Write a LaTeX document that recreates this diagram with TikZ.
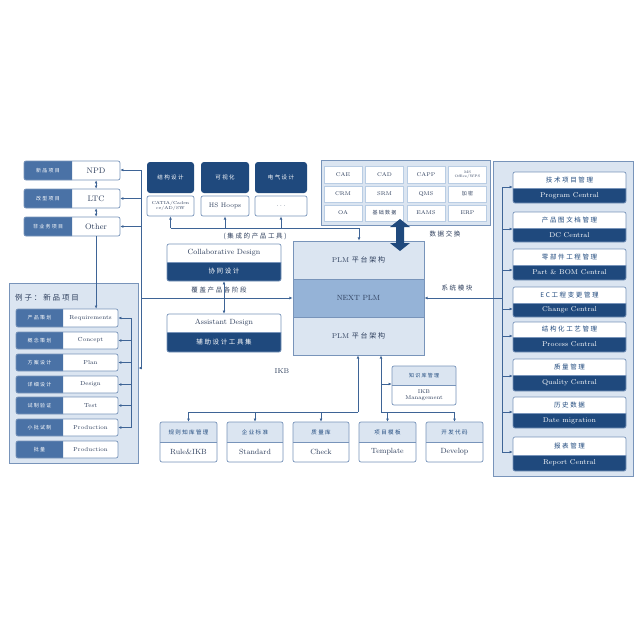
\documentclass[tikz,border=0pt]{standalone}
\usepackage{fontspec}
\usetikzlibrary{arrows.meta,calc}
\newfontfamily\cjk[LetterSpace=25]{Noto Sans CJK SC}
\definecolor{navy}{RGB}{31,73,125}
\definecolor{midb}{RGB}{74,114,166}
\definecolor{lightb}{RGB}{219,229,241}
\definecolor{cellbd}{RGB}{185,205,228}
\definecolor{bordc}{RGB}{120,148,186}
\definecolor{linec}{RGB}{62,100,150}
\definecolor{nextb}{RGB}{149,179,215}
\definecolor{txtc}{RGB}{45,62,92}
\tikzset{
  arr/.style={draw=linec,line width=0.7pt,-{Latex[length=3.2pt,width=2.8pt]}},
  darr/.style={draw=linec,line width=0.7pt,{Latex[length=3.2pt,width=2.8pt]}-{Latex[length=3.2pt,width=2.8pt]}},
  ln/.style={draw=linec,line width=0.7pt},
  cj/.style={font={\cjk\fontsize{#1}{#1}\selectfont}},
  en/.style={font={\fontsize{#1}{#1}\selectfont}},
  txt/.style={inner sep=0,align=center},
  bx/.style={draw=bordc,line width=0.7pt},
  wn-t/.style={fill=white}, wn-b/.style={fill=navy},
  wn-tt/.style={txt,cj=6.5,text=navy}, wn-bt/.style={txt,en=7,text=white},
  cw-t/.style={fill=white}, cw-b/.style={fill=navy},
  cw-tt/.style={txt,en=7.5,text=txtc}, cw-bt/.style={txt,cj=6.5,text=white},
  lw-t/.style={fill=lightb}, lw-b/.style={fill=white},
  lw-tt/.style={txt,cj=5.5,text=navy}, lw-bt/.style={txt,en=7.5,text=txtc},
  kb-t/.style={fill=lightb}, kb-b/.style={fill=white},
  kb-tt/.style={txt,cj=5,text=navy}, kb-bt/.style={txt,en=5.5,text=txtc},
  cell/.style={draw=cellbd,fill=white,minimum width=38,minimum height=16.5,inner sep=0,en=5.5,text=txtc,align=center},
  lbl/.style={inner sep=0,cj=6.5,text=txtc},
}
% horizontal split box: name, x1,y1,x2,y2, xsplit, left text, right text
\newcommand\mkH[8]{%
  \node[inner sep=0,minimum width={#4-#2},minimum height={#5-#3}] (#1) at ({(#2+#4)/2},{(#3+#5)/2}) {};
  \fill[white,rounded corners=2] (#2,#3) rectangle (#4,#5);
  \begin{scope}\clip ({#2-3},{#3-3}) rectangle (#6,{#5+3});
    \fill[midb,rounded corners=2] (#2,#3) rectangle (#4,#5);\end{scope}
  \draw[bx,rounded corners=2] (#2,#3) rectangle (#4,#5);
  \node[hl] (#1-l) at ({(#2+#6)/2},{(#3+#5)/2}) {#7};
  \node[hr] (#1-r) at ({(#6+#4)/2},{(#3+#5)/2}) {#8};}
% vertical split box: name, x1,y1,x2,y2, ysplit, top text, bottom text, variant
\newcommand\mkV[9]{%
  \node[inner sep=0,minimum width={#4-#2},minimum height={#5-#3}] (#1) at ({(#2+#4)/2},{(#3+#5)/2}) {};
  \fill[#9-t,rounded corners=2] (#2,#3) rectangle (#4,#5);
  \begin{scope}\clip ({#2-3},#6) rectangle ({#4+3},{#5+3});
    \fill[#9-b,rounded corners=2] (#2,#3) rectangle (#4,#5);\end{scope}
  \draw[bx] (#2,#6) -- (#4,#6);
  \draw[bx,rounded corners=2] (#2,#3) rectangle (#4,#5);
  \node[#9-tt] (#1-t) at ({(#2+#4)/2},{(#3+#6)/2}) {#7};
  \node[#9-bt] (#1-b) at ({(#2+#4)/2},{(#6+#5)/2}) {#8};}
\begin{document}
\begin{tikzpicture}[x=1pt,y=-1pt]
\fill[white] (0,0) rectangle (640,640);
\useasboundingbox (0,0) rectangle (640,640);

% ---------- left project column
\tikzset{hl/.style={txt,cj=5,text=white},hr/.style={txt,en=8,text=txtc}}
\mkH{npd}{24}{161}{120}{180}{72}{新品项目}{NPD}
\mkH{ltc}{24}{189}{120}{208}{72}{改型项目}{LTC}
\mkH{other}{24}{217}{120}{236}{72}{非业务项目}{Other}

% ---------- left example box
\node[bx,fill=lightb,minimum width=129,minimum height=180,inner sep=0] (lbox) at (73.5,373) {};
\node[anchor=west,inner sep=0,cj=7.5,text=txtc] (ttl) at (15,298) {例子：新品项目};
\tikzset{hl/.style={txt,cj=5,text=white},hr/.style={txt,en=5.8,text=txtc}}
\mkH{r1}{16}{309}{118}{327}{63}{产品策划}{Requirements}
\mkH{r2}{16}{332}{118}{349}{63}{概念策划}{Concept}
\mkH{r3}{16}{354}{118}{371}{63}{方案设计}{Plan}
\mkH{r4}{16}{376}{118}{393}{63}{详细设计}{Design}
\mkH{r5}{16}{397}{118}{414}{63}{试制验证}{Test}
\mkH{r6}{16}{419}{118}{436}{63}{小批试制}{Production}
\mkH{r7}{16}{441}{118}{458}{63}{批量}{Production}

% ---------- tools
\node[fill=navy,rounded corners=3,minimum width=47,minimum height=31,inner sep=0,cj=5.5,text=white] (tl1) at (170.5,177.5) {结构设计};
\node[fill=navy,rounded corners=3,minimum width=48,minimum height=31,inner sep=0,cj=5.5,text=white] (tl2) at (225,177.5) {可视化};
\node[fill=navy,rounded corners=3,minimum width=52,minimum height=31,inner sep=0,cj=5.5,text=white] (tl3) at (281,177.5) {电气设计};
\node[bx,fill=white,rounded corners=2,minimum width=47,minimum height=20,inner sep=0,align=center,en=4.3,text=txtc] (tw1) at (170.5,206) {CATIA/Caden\\ce/AD/SW};
\node[bx,fill=white,rounded corners=2,minimum width=48,minimum height=20,inner sep=0,en=6.5,text=txtc] (tw2) at (225,206) {HS Hoops};
\node[bx,fill=white,rounded corners=2,minimum width=52,minimum height=20,inner sep=0,en=6.5,text=txtc] (tw3) at (281,206) {$\cdots$};
\node[lbl] (lab1) at (255,236) {(集成的产品工具)};

% ---------- data exchange box
\node[bx,fill=lightb,minimum width=169,minimum height=65,inner sep=0] (datab) at (405.5,192.5) {};
\node[cell] (c11) at (343,174.5) {CAE};
\node[cell] (c12) at (384.5,174.5) {CAD};
\node[cell] (c13) at (426,174.5) {CAPP};
\node[cell,en=3.6] (c14) at (467.5,174.5) {MS\\Office/WPS};
\node[cell] (c21) at (343,194) {CRM};
\node[cell] (c22) at (384.5,194) {SRM};
\node[cell] (c23) at (426,194) {QMS};
\node[cell,cj=5] (c24) at (467.5,194) {加密};
\node[cell] (c31) at (343,213) {OA};
\node[cell,cj=5] (c32) at (384.5,213) {基础数据};
\node[cell] (c33) at (426,213) {EAMS};
\node[cell] (c34) at (467.5,213) {ERP};
\node[lbl] (lab2) at (445,234) {数据交换};

% ---------- PLM stack
\node[bx,fill=lightb,minimum width=131,minimum height=38,inner sep=0,en=7,text=txtc] (plm1) at (358.5,260) {PLM\ {\cjk 平台架构}};
\node[bx,fill=nextb,minimum width=131,minimum height=38,inner sep=0,en=7.5,text=txtc] (nextplm) at (358.5,298) {NEXT PLM};
\node[bx,fill=lightb,minimum width=131,minimum height=38,inner sep=0,en=7,text=txtc] (plm3) at (358.5,336) {PLM\ {\cjk 平台架构}};

% ---------- collaborative / assistant
\mkV{collab}{167}{244}{281}{281}{262}{Collaborative Design}{协同设计}{cw}
\mkV{assist}{167}{314}{281}{352}{332}{Assistant Design}{辅助设计工具集}{cw}
\node[lbl] (lab3) at (219,290) {覆盖产品各阶段};

% ---------- right panel
\node[bx,fill=lightb,minimum width=140,minimum height=315,inner sep=0] (rpanel) at (563,318.5) {};
\mkV{pc}{513}{172}{626}{203}{188}{技术项目管理}{Program Central}{wn}
\mkV{dc}{513}{212}{626}{242}{228}{产品图文档管理}{DC Central}{wn}
\mkV{pb}{513}{249}{626}{280}{265}{零部件工程管理}{Part \& BOM Central}{wn}
\mkV{cc}{513}{287}{626}{317}{303}{EC工程变更管理}{Change Central}{wn}
\mkV{prc}{513}{322}{626}{352}{337}{结构化工艺管理}{Process Central}{wn}
\mkV{qc}{513}{359}{626}{391}{375}{质量管理}{Quality Central}{wn}
\mkV{dm}{513}{397}{626}{428}{413}{历史数据}{Date migration}{wn}
\mkV{rc}{513}{437}{626}{471}{455}{报表管理}{Report Central}{wn}
\node[lbl] (lab4) at (457,288) {系统模块};

% ---------- bottom IKB
\node[inner sep=0,en=7,text=txtc] (ikb) at (282,371) {IKB};
\mkV{kn}{392}{366}{456}{405}{385}{知识库管理}{IKB\\Management}{kb}
\mkV{b1}{160}{422}{217}{462}{442}{规则知库管理}{Rule\&IKB}{lw}
\mkV{b2}{227}{422}{283}{462}{442}{企业标准}{Standard}{lw}
\mkV{b3}{293}{422}{349}{462}{442}{质量库}{Check}{lw}
\mkV{b4}{359}{422}{416}{462}{442}{项目模板}{Template}{lw}
\mkV{b5}{426}{422}{483}{462}{442}{开发代码}{Develop}{lw}

% ================= connectors
% left column
\coordinate (cx) at ($(npd.south west)!0.75!(npd.south east)$);
\draw[darr] (npd.south -| cx) -- (ltc.north -| cx);
\draw[darr] (ltc.south -| cx) -- (other.north -| cx);
\draw[arr] (other.south -| cx) -- (r1.north -| cx);
\coordinate (lbT) at (141,170);
\coordinate (lbB) at (141,368);
\draw[ln] (lbT) -- (lbB);
\draw[arr] (lbT) -- (lbT -| npd.east);
\draw[arr] (ltc.east -| lbT) -- (ltc.east);
\draw[arr] (other.east -| lbT) -- (other.east);
\draw[arr] (lbB) -- (lbB -| lbox.east);
\draw[arr] (nextplm.west -| lbT) -- (nextplm.west);
% bracket in example box
\coordinate (bk) at (131,318);
\draw[ln] (r1.east -| bk) -- (r6.east -| bk);
\foreach \rr in {r1,r2,r3,r4,r5,r6} \draw[arr] (\rr.east -| bk) -- (\rr.east);
% collab / assist
\draw[darr] (collab.south) -- (assist.north);
% tools bus
\coordinate (tbE) at (359,228);
\draw[ln] (tw1.south |- tbE) -- (tbE);
\draw[arr] (tw1.south |- tbE) -- (tw1.south);
\draw[arr] (tw2.south |- tbE) -- (tw2.south);
\draw[arr] (tw3.south |- tbE) -- (tw3.south);
\draw[arr] (tbE) -- (tbE |- plm1.north);
% big data-exchange arrow
\coordinate (da) at (400,219);
\coordinate (db) at (400,251);
\fill[navy] (da) -- ++(10,8) -- ++(-6,0) -- ++(0,16) -- ++(6,0) -- (db) -- ++(-10,-8) -- ++(6,0) -- ++(0,-16) -- ++(-6,0) -- cycle;
% right bus
\coordinate (rb1) at (502,187);
\coordinate (rb2) at (502,229);
\coordinate (rb3) at (502,270);
\coordinate (rb4) at (502,309);
\coordinate (rb5) at (502,336);
\coordinate (rb6) at (502,376);
\coordinate (rb7) at (502,412);
\coordinate (rb8) at (502,452);
\coordinate (rbm) at (502,298);
\draw[ln] (rb1) -- (rb8);
\draw[arr] (rb1) -- (rb1 -| pc.west);
\draw[arr] (rb2) -- (rb2 -| dc.west);
\draw[arr] (rb3) -- (rb3 -| pb.west);
\draw[arr] (rb4) -- (rb4 -| cc.west);
\draw[arr] (rb5) -- (rb5 -| prc.west);
\draw[arr] (rb6) -- (rb6 -| qc.west);
\draw[arr] (rb7) -- (rb7 -| dm.west);
\draw[arr] (rb8) -- (rb8 -| rc.west);
\draw[arr] (rbm) -- (rbm -| nextplm.east);
% bottom trees
\coordinate (t1) at (358,412);
\coordinate (t2) at (381,412);
\coordinate (kbr) at (381,384);
\draw[arr] (t1) -- (t1 |- plm3.south);
\draw[arr] (t2) -- (t2 |- plm3.south);
\draw[ln] (b1.north |- t1) -- (t1);
\draw[ln] (t2) -- (b5.north |- t2);
\draw[arr] (b1.north |- t1) -- (b1.north);
\draw[arr] (b2.north |- t1) -- (b2.north);
\draw[arr] (b3.north |- t1) -- (b3.north);
\draw[arr] (b4.north |- t2) -- (b4.north);
\draw[arr] (b5.north |- t2) -- (b5.north);
\draw[arr] (kbr) -- (kbr -| kn.west);
\end{tikzpicture}
\end{document}
